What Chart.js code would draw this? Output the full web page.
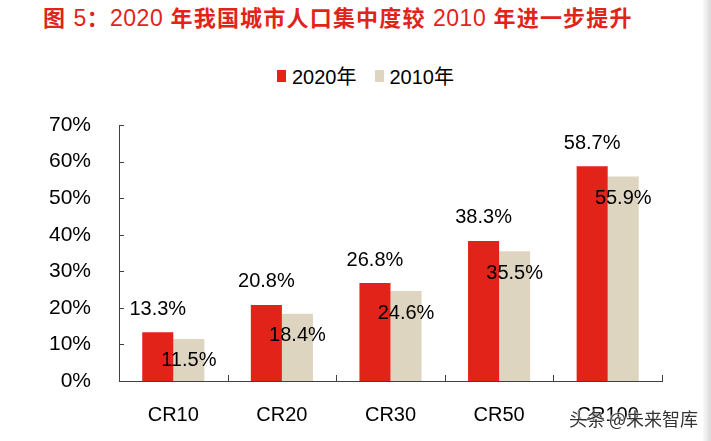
<!DOCTYPE html>
<html lang="zh">
<head>
<meta charset="UTF-8">
<title>2020年我国城市人口集中度</title>
<script src="https://cdn.jsdelivr.net/npm/chart.js@4.4.1/dist/chart.umd.min.js"></script>
<style>
  * { margin: 0; padding: 0; box-sizing: border-box; }
  body { width: 711px; height: 441px; background: #fff; position: relative; overflow: hidden; font-family: "Liberation Sans", Arial, sans-serif; }
  .title { position: absolute; left: 43px; top: 0px; font-size: 22px; font-weight: bold; color: #e2231a; white-space: nowrap; letter-spacing: 1.2px; font-family: "Liberation Sans", "Noto Sans CJK SC", sans-serif; }
  .title .n { font-weight: normal; font-size: 23px; letter-spacing: 0.5px; }
  .legend { position: absolute; top: 61px; left: 277px; display: flex; align-items: center; font-size: 20px; color: #000; font-family: "Liberation Sans", "Noto Sans CJK SC", sans-serif; }
  .legend .box { width: 9px; height: 12px; display: inline-block; margin-right: 6px; }
  .legend .item { display: flex; align-items: center; margin-right: 18px; }
  .wm { position: absolute; left: 569px; top: 405px; font-size: 18px; color: #333; font-family: "Noto Sans CJK SC", sans-serif; text-shadow: 0 0 2px #fff, 0 0 2px #fff, 0 0 1px #fff; }
  .edge { position: absolute; right: 0; top: 0; width: 8px; height: 441px; background: linear-gradient(to right, #fafafa, #d8d8d8); }
  #wrap { position: absolute; left: 0; top: 0; width: 711px; height: 441px; }
</style>
</head>
<body>

<div class="title">图 <span class="n">5</span>：<span class="n">2020</span> 年我国城市人口集中度较 <span class="n">2010</span> 年进一步提升</div>
<div class="legend">
  <span class="item"><span class="box" style="background:#e2231a"></span>2020年</span>
  <span class="item"><span class="box" style="background:#ddd5c0"></span>2010年</span>
</div>

<div id="wrap"><canvas id="chart"></canvas></div>
<div class="wm">头条 @未来智库</div>
<div class="edge"></div>

<script>
const categories = ['CR10', 'CR20', 'CR30', 'CR50', 'CR100'];
const values2020 = [13.3, 20.8, 26.8, 38.3, 58.7];
const values2010 = [11.5, 18.4, 24.6, 35.5, 55.9];
const yTicks = [0, 10, 20, 30, 40, 50, 60, 70];

const RED = '#e2231a';
const BEIGE = '#ddd5c0';
const AXIS = '#404040';

// inward tick marks + data labels
const decor = {
  id: 'decor',
  afterDatasetsDraw(chart) {
    const { ctx, chartArea, scales: { x, y } } = chart;
    ctx.save();
    ctx.strokeStyle = AXIS;
    ctx.lineWidth = 1;
    ctx.beginPath();
    yTicks.forEach(v => {
      const py = Math.round(y.getPixelForValue(v)) + 0.5;
      ctx.moveTo(chartArea.left, py);
      ctx.lineTo(chartArea.left + 5, py);
    });
    for (let i = 0; i <= categories.length; i++) {
      const px = Math.round(x.getPixelForValue(i - 0.5)) + 0.5;
      ctx.moveTo(px, chartArea.bottom);
      ctx.lineTo(px, chartArea.bottom - 6);
    }
    ctx.stroke();

    ctx.fillStyle = '#000';
    ctx.font = '20px "Liberation Sans", Arial, sans-serif';
    ctx.textAlign = 'center';
    ctx.textBaseline = 'middle';
    chart.getDatasetMeta(0).data.forEach((bar, i) => {
      ctx.fillText(values2020[i].toFixed(1) + '%', bar.x, bar.y - 23);
    });
    chart.getDatasetMeta(1).data.forEach((bar, i) => {
      ctx.fillText(values2010[i].toFixed(1) + '%', bar.x, bar.y + 22);
    });
    ctx.restore();
  }
};

new Chart(document.getElementById('chart'), {
  type: 'bar',
  data: {
    labels: categories,
    datasets: [
      { label: '2020年', data: values2020, backgroundColor: RED, categoryPercentage: 0.572, barPercentage: 1 },
      { label: '2010年', data: values2010, backgroundColor: BEIGE, categoryPercentage: 0.572, barPercentage: 1 }
    ]
  },
  options: {
    responsive: true, maintainAspectRatio: false, animation: false,
    layout: { padding: { top: 125, right: 49, left: 0, bottom: 0 } },
    plugins: { legend: { display: false }, tooltip: { enabled: false } },
    scales: {
      x: {
        grid: { display: false },
        border: { display: true, color: AXIS, width: 1 },
        ticks: { color: '#000', font: { size: 20, family: '"Liberation Sans", Arial, sans-serif' }, padding: 14 },
        afterFit: s => { s.height = 60; }
      },
      y: {
        min: 0, max: 70,
        afterBuildTicks: s => { s.ticks = yTicks.map(v => ({ value: v })); },
        grid: { display: false },
        border: { display: true, color: AXIS, width: 1 },
        ticks: { color: '#000', font: { size: 21, family: '"Liberation Sans", Arial, sans-serif' }, padding: 20, callback: v => v + '%' },
        afterFit: s => { s.width = 119; }
      }
    }
  },
  plugins: [decor]
});
</script>
</body>
</html>
